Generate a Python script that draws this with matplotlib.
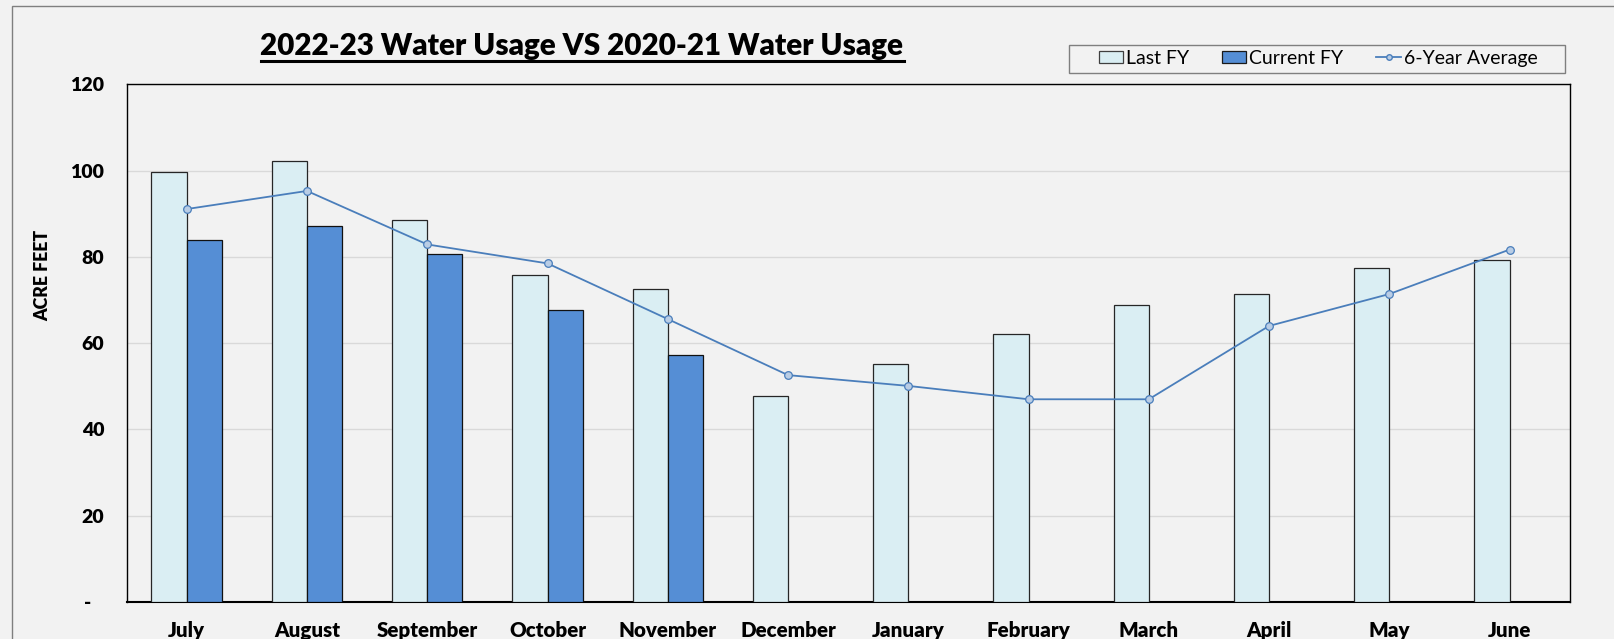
import matplotlib
matplotlib.use("Agg")
import matplotlib.pyplot as plt
from matplotlib.patches import Rectangle
from matplotlib.lines import Line2D
import numpy as np

months = ["July", "August", "September", "October", "November", "December",
          "January", "February", "March", "April", "May", "June"]
last_fy = [99.8, 102.2, 88.5, 75.9, 72.5, 47.7, 55.2, 62.1, 68.8, 71.4, 77.5, 79.3]
current_fy = [83.9, 87.2, 80.6, 67.7, 57.2]
six_year_avg = [91.1, 95.3, 82.9, 78.5, 65.6, 52.6, 50.1, 47.0, 47.0, 64.0, 71.4, 81.7]
y_ticks = [0, 20, 40, 60, 80, 100, 120]
y_tick_labels = ["-   ", "20", "40", "60", "80", "100", "120"]

title = "2022-23 Water Usage VS 2020-21 Water Usage"
FONT = "Lato"
BG = "#F2F2F2"
W, H = 1614, 639

fig = plt.figure(figsize=(W / 100, H / 100), dpi=100, facecolor=BG)
# outer chart frame
fig.patches.append(Rectangle((12.4 / W, -0.1), 1.2, 1.1 - 6.2 / H,
                             transform=fig.transFigure, fill=False,
                             edgecolor="#7F7F7F", linewidth=1.0))

left, right, top, bottom = 126.6, 1569.7, 84.4, 602.0
ax = fig.add_axes([left / W, 1 - bottom / H, (right - left) / W, (bottom - top) / H])
ax.set_facecolor(BG)

x = np.arange(len(months))
bw = 0.293
ax.bar(x - bw / 2, last_fy, width=bw, color="#DAEEF3", edgecolor="#262626",
       linewidth=0.9, zorder=3, label="Last FY")
xc = np.arange(len(current_fy))
ax.bar(xc + bw / 2, current_fy, width=bw, color="#558ED5", edgecolor="#111111",
       linewidth=0.9, zorder=3, label="Current FY")
ax.plot(x, six_year_avg, color="#4A7EBB", linewidth=1.3, marker="o",
        markersize=5.5, markerfacecolor="#B9CDE5", markeredgecolor="#4A7EBB",
        markeredgewidth=0.9, zorder=4, label="6-Year Average")

ax.set_xlim(-0.5, len(months) - 0.5)
ax.set_ylim(0, 120)
ax.set_yticks(y_ticks)
ax.set_yticklabels(y_tick_labels, fontfamily=FONT, fontweight="heavy", fontsize=14)
ax.set_xticks(x)
ax.set_xticklabels(months, fontfamily=FONT, fontweight="heavy", fontsize=14.8)
ax.tick_params(axis="both", length=0)
ax.tick_params(axis="y", pad=16)
ax.tick_params(axis="x", pad=14)
ax.grid(axis="y", color="#D9D9D9", linewidth=1.0, zorder=0)
ax.set_axisbelow(True)
for s in ax.spines.values():
    s.set_color("black")
    s.set_linewidth(1.0)
ax.spines["bottom"].set_linewidth(1.5)

fig.text(43 / W, 1 - 275 / H, "ACRE FEET", rotation=90, ha="center", va="center",
         fontfamily=FONT, fontweight="heavy", fontsize=12.8)

t = fig.text(582 / W, 1 - 46 / H, title, ha="center", va="center",
             fontfamily=FONT, fontweight="heavy", fontsize=21.3)
# underline
fig.canvas.draw()
bb = t.get_window_extent()
fig.add_artist(Line2D([bb.x0 / W, bb.x1 / W], [(bb.y0 - 1) / H, (bb.y0 - 1) / H],
                      transform=fig.transFigure, color="black", linewidth=2.2))

# legend frame (wide, Excel-like)
lx0, lx1, ly0, ly1 = 1068.5, 1564.5, 44.5, 72.5
fig.patches.append(Rectangle((lx0 / W, 1 - ly1 / H), (lx1 - lx0) / W, (ly1 - ly0) / H,
                             transform=fig.transFigure, facecolor=BG,
                             edgecolor="#7F7F7F", linewidth=1.0, zorder=1))

handles = [Rectangle((0, 0), 1, 1, facecolor="#DAEEF3", edgecolor="#3F3F3F", linewidth=0.9),
           Rectangle((0, 0), 1, 1, facecolor="#558ED5", edgecolor="#1a1a1a", linewidth=0.9),
           Line2D([], [], color="#4A7EBB", linewidth=1.3, marker="o", markersize=4,
                  markerfacecolor="#B9CDE5", markeredgecolor="#4A7EBB")]
leg = fig.legend(handles, ["Last FY", "Current FY", "6-Year Average"],
                 loc="center", bbox_to_anchor=(1318 / W, 1 - 58.5 / H), ncol=3,
                 frameon=False, prop={"family": FONT, "size": 14},
                 handlelength=1.25, handleheight=0.6, handletextpad=0.15,
                 columnspacing=1.7, borderpad=0.25)
leg.set_zorder(5)

fig.savefig("out.png", dpi=100, facecolor=BG)
